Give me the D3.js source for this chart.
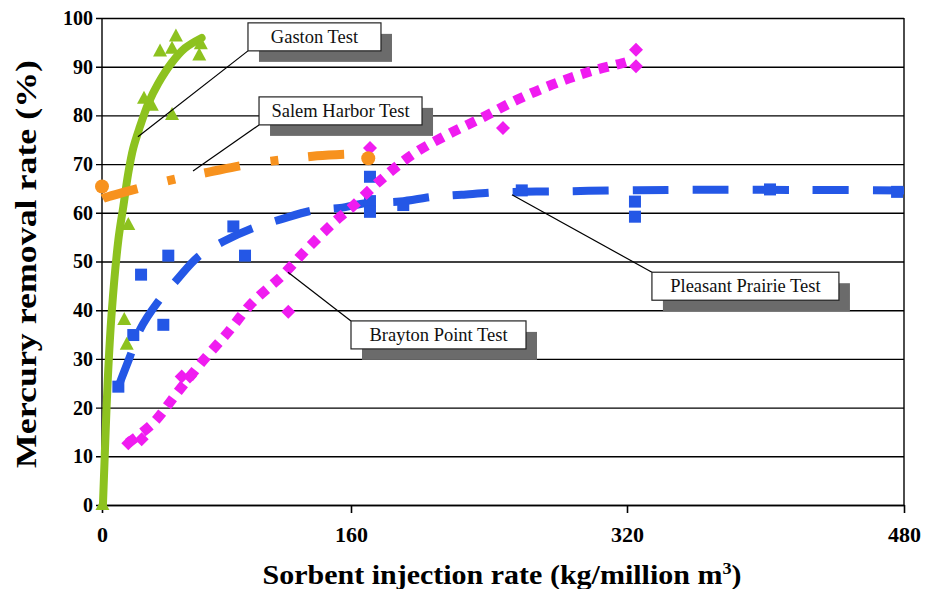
<!DOCTYPE html>
<html><head><meta charset="utf-8">
<script src="https://cdn.jsdelivr.net/npm/d3@7"></script>
<style>body{margin:0;background:#fff}svg{display:block}</style>
</head><body><svg id="c" width="928" height="589"></svg>
<script>
// ---- data ----
const xTicks = [0, 160, 320, 480];
const yTicks = [0, 10, 20, 30, 40, 50, 60, 70, 80, 90, 100];
const xTitle = "Sorbent injection rate (kg/million m";
const yTitle = "Mercury removal rate (%)";

const gastonPoints = [[0.3,0],[15.9,32.9],[14.3,38],[16.9,57.5],[27,83.4],[32,82],[45,80.1],[37.3,93.1],[45,93.7],[47.5,96.2],[62.5,92.3],[63.5,94.6]];
const gastonTrend = [[0.6,0],[1.9,11.3],[3.7,25.7],[6.2,39.4],[10.5,54.4],[13.7,61.3],[16.9,68.2],[20.1,73.3],[24.4,77.7],[29.8,82.5],[36.2,86.6],[44.8,90.8],[53.3,93.8],[64,95.9]];

const salemPoints = [[0,65.4],[170,71.2]];
const salemTrend = [[0.5,62.9],[1.9,63.1],[24.4,65.1],[46.9,66.9],[69.4,68.4],[93.2,69.9],[115.7,70.9],[138.2,71.7],[161,72.1],[170,72.2]];

const braytonPoints = [[16.9,12.7],[25.5,13.5],[51.2,26.4],[56.5,26.4],[119.7,39.7],[171,73.3],[248.1,77.4],[325.2,93.5],[325.2,90.1]];
const braytonTrend = [[16.7,12.7],[32.8,16.8],[48.2,23.0],[64.3,29.4],[81,35.5],[96.4,41.5],[115.7,47.1],[132.4,52.8],[151,58.6],[160.6,61.2],[176.8,66.6],[195.4,71.9],[215.7,76.0],[235.9,79.5],[256.2,83.2],[276.5,86.3],[298.5,89.0],[320,91.0],[323,91.4]];

const pleasantPoints = [[10.5,24.3],[20.1,34.9],[39.4,37.0],[25.1,47.3],[42.6,51.2],[84.4,57.2],[91.9,51.2],[171,67.4],[171,62.4],[171,60.2],[190.3,61.6],[259,64.6],[324.6,62.3],[324.6,59.2],[402.6,64.8],[476,64.3]];
const pleasantTrend = [[10.5,24.3],[18,30.5],[24.4,36],[36.2,41.8],[48,46.2],[61.9,51],[77.9,54.1],[97.2,56.9],[114.3,58.6],[135.7,60.5],[153.1,61],[169.1,62],[188.4,62.3],[207.7,63.3],[224.2,63.7],[244.5,64.2],[280.2,64.4],[315,64.6],[350.6,64.7],[419.9,64.7],[480,64.6]];

const calloutLabels = ["Gaston Test", "Salem Harbor Test", "Brayton Point Test", "Pleasant Prairie Test"];
const calloutBoxAt = [[93.8,99.0],[100.9,83.8],[160,37.8],[334.4,47.8]];
const calloutTarget = [[23.1,75.6],[58.5,68.6],[119.5,47.8],[253.3,63.7]];

// ---- layout ----
const L = 102, R = 904, T = 18, B = 505;
const svg = d3.select("#c");
const x = d3.scaleLinear().domain(xTicks).range([L, 351, 627, R]);
const y = d3.scaleLinear().domain([0, 100]).range([B, T]);
const serif = "'Liberation Serif','Times New Roman',serif";

// grid + y axis
const ya = svg.append("g").attr("transform", `translate(${L},0)`)
  .call(d3.axisLeft(y).tickValues(yTicks).tickSize(-(R - L)).tickPadding(9));
ya.select(".domain").remove();
ya.selectAll(".tick line").attr("x1", -6).attr("stroke", "#000").attr("stroke-width", 1.4);
ya.selectAll(".tick text").attr("font-family", serif).attr("font-weight", "bold")
  .attr("font-size", 20).attr("fill", "#000");

// x axis
const xa = svg.append("g").attr("transform", `translate(0,${B})`)
  .call(d3.axisBottom(x).tickValues(xTicks).tickSize(8).tickPadding(13).tickSizeOuter(0));
xa.select(".domain").attr("stroke", "#000").attr("stroke-width", 1.4);
xa.selectAll(".tick line").attr("stroke", "#000").attr("stroke-width", 1.6);
xa.selectAll(".tick text").attr("font-family", serif).attr("font-weight", "bold")
  .attr("font-size", 22).attr("fill", "#000");

// frame
svg.append("line").attr("x1", L).attr("x2", L).attr("y1", T).attr("y2", B).attr("stroke", "#000").attr("stroke-width", 1.4);
svg.append("line").attr("x1", R).attr("x2", R).attr("y1", T).attr("y2", B).attr("stroke", "#000").attr("stroke-width", 1.4);

const line = d3.line().x(d => x(d[0])).y(d => y(d[1])).curve(d3.curveCatmullRom);
const plot = svg.append("g");

// Pleasant Prairie (blue)
const blue = "#2457e6";
plot.append("path").datum(pleasantTrend).attr("d", line).attr("fill", "none")
  .attr("stroke", blue).attr("stroke-width", 8).attr("stroke-dasharray", "36,24");
plot.selectAll(".pp").data(pleasantPoints).join("rect")
  .attr("x", d => x(d[0]) - 6).attr("y", d => y(d[1]) - 6).attr("width", 12).attr("height", 12).attr("fill", blue);

// Brayton Point (magenta)
const mag = "#f01cf0";
plot.append("path").datum(braytonTrend).attr("d", line).attr("fill", "none")
  .attr("stroke", mag).attr("stroke-width", 10).attr("stroke-dasharray", "10,8");
plot.selectAll(".bp").data(braytonPoints).join("path")
  .attr("d", "M0,-7L7,0L0,7L-7,0Z").attr("transform", d => `translate(${x(d[0])},${y(d[1])})`).attr("fill", mag);

// Gaston (green)
const green = "#8dc21f";
plot.append("path").datum(gastonTrend).attr("d", line).attr("fill", "none")
  .attr("stroke", green).attr("stroke-width", 8).attr("stroke-linecap", "round");
plot.selectAll(".gp").data(gastonPoints).join("path")
  .attr("d", "M0,-8L7,5L-7,5Z").attr("transform", d => `translate(${x(d[0])},${y(d[1])})`).attr("fill", green);

// Salem Harbor (orange)
const orange = "#f7921e";
plot.append("path").datum(salemTrend).attr("d", line).attr("fill", "none")
  .attr("stroke", orange).attr("stroke-width", 9).attr("stroke-dasharray", "36,31,8,30");
plot.selectAll(".sp").data(salemPoints).join("circle")
  .attr("cx", d => x(d[0])).attr("cy", d => y(d[1])).attr("r", 7).attr("fill", orange);

// callouts
const cw = [133, 163, 175, 187], ch = 28, sh = 11;
calloutLabels.forEach((lab, i) => {
  const bx = x(calloutBoxAt[i][0]), by = y(calloutBoxAt[i][1]);
  const tx = x(calloutTarget[i][0]), ty = y(calloutTarget[i][1]);
  const cy = ty > by + ch ? by + ch : by;
  svg.append("line").attr("x1", tx).attr("y1", ty).attr("x2", bx).attr("y2", cy)
    .attr("stroke", "#000").attr("stroke-width", 1.2);
  svg.append("rect").attr("x", bx + sh).attr("y", by + sh).attr("width", cw[i]).attr("height", ch).attr("fill", "#6b6b6b");
  svg.append("rect").attr("x", bx).attr("y", by).attr("width", cw[i]).attr("height", ch)
    .attr("fill", "#fff").attr("stroke", "#222").attr("stroke-width", 1.2);
  svg.append("text").attr("x", bx + cw[i] / 2).attr("y", by + ch / 2 + 6)
    .attr("text-anchor", "middle").attr("font-family", serif).attr("font-size", 18.5).attr("fill", "#111").text(lab);
});

// titles
const xt = svg.append("text").attr("x", 502).attr("y", 584).attr("text-anchor", "middle")
  .attr("font-family", serif).attr("font-weight", "bold").attr("font-size", 28).attr("fill", "#000")
  .attr("textLength", 479).attr("lengthAdjust", "spacingAndGlyphs");
xt.append("tspan").text(xTitle);
xt.append("tspan").attr("dy", -10).attr("font-size", 17).text("3");
xt.append("tspan").attr("dy", 10).text(")");

svg.append("text").attr("transform", "translate(36,264) rotate(-90)").attr("text-anchor", "middle")
  .attr("font-family", serif).attr("font-weight", "bold").attr("font-size", 30).attr("fill", "#000")
  .attr("textLength", 408).attr("lengthAdjust", "spacingAndGlyphs").text(yTitle);
</script></body></html>
